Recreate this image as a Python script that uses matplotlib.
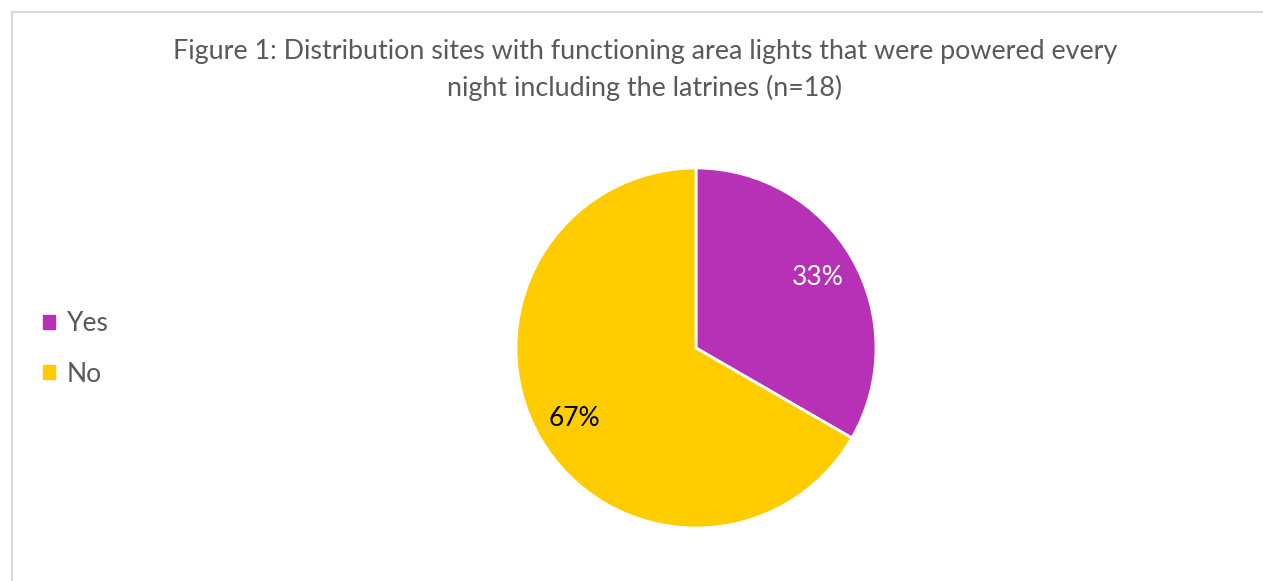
import matplotlib
matplotlib.use("Agg")
import matplotlib.pyplot as plt
from matplotlib.patches import Rectangle

categories = ["Yes", "No"]
counts = [6, 12]
colors = ["#B731B6", "#FFCC00"]
label_colors = ["white", "black"]

FONT = "Lato"
W, H = 1263, 581
fig = plt.figure(figsize=(W / 100, H / 100), dpi=100)
fig.patch.set_facecolor("white")

# light chart-area border
fig.patches.append(Rectangle((11.5 / W, -0.1), 1.2, 1 - 12.5 / H + 0.1,
                             transform=fig.transFigure, fill=False,
                             edgecolor="#D9D9D9", linewidth=1.5))

fig.text(645 / W, 1 - 52 / H,
         "Figure 1: Distribution sites with functioning area lights that were powered every",
         ha="center", va="center", fontsize=19.4, color="#595959", family=FONT)
fig.text(645 / W, 1 - 88 / H, "night including the latrines (n=18)",
         ha="center", va="center", fontsize=19.4, color="#595959", family=FONT)

cx, cy, r = 696, 348, 180
ax = fig.add_axes([(cx - r) / W, 1 - (cy + r) / H, 2 * r / W, 2 * r / H])
wedges, texts, autotexts = ax.pie(
    counts, colors=colors, startangle=90, counterclock=False,
    autopct=lambda p: f"{p:.0f}%", pctdistance=0.78,
    wedgeprops=dict(edgecolor="white", linewidth=2),
    textprops=dict(fontsize=19, family=FONT),
)
for t, c in zip(autotexts, label_colors):
    t.set_color(c)
ax.set_xlim(-1, 1)
ax.set_ylim(-1, 1)
ax.set_aspect("equal")

handles = [Rectangle((0, 0), 1, 1, color=c) for c in colors]
leg = fig.legend(handles, categories, loc="center left",
                 bbox_to_anchor=(19 / W, 1 - 349 / H), frameon=False,
                 prop=dict(family=FONT, size=19), labelcolor="#595959",
                 handlelength=0.45, handleheight=0.45, handletextpad=0.45,
                 labelspacing=0.95)

fig.savefig("out.png", dpi=100)
